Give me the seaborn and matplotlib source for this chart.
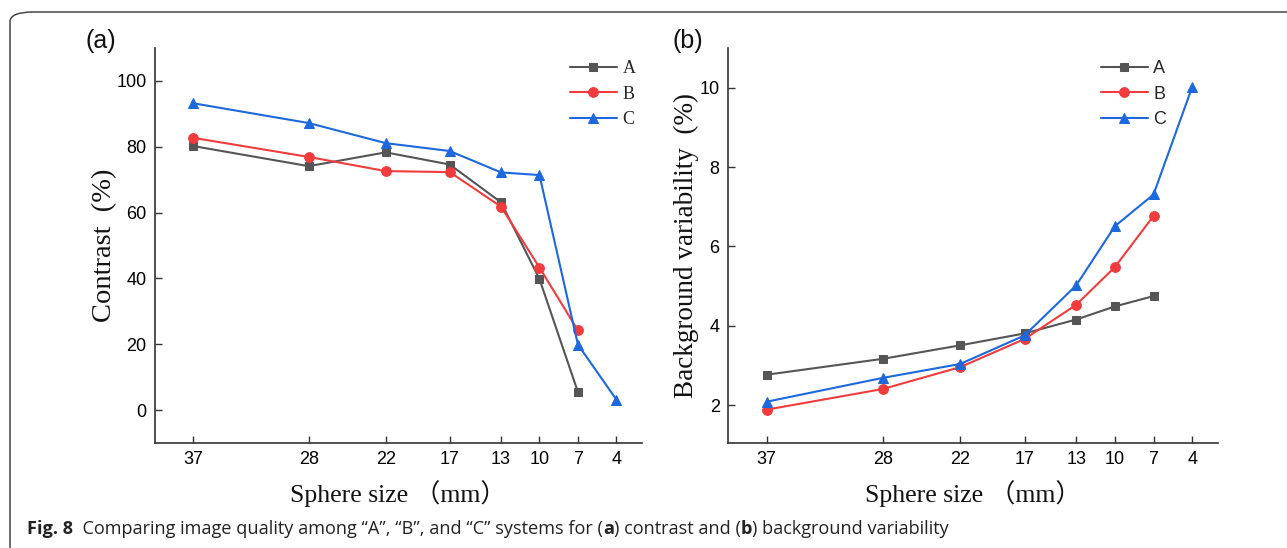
import numpy as np
import pandas as pd
import matplotlib
matplotlib.use('Agg')
import matplotlib.pyplot as plt
from matplotlib.patches import FancyBboxPatch
import seaborn as sns

sns.set_style('ticks')

# sphere sizes (mm)
sizes = [37, 28, 22, 17, 13, 10, 7]
sizes_c = [37, 28, 22, 17, 13, 10, 7, 4]

# (a) contrast (%)
contrast_a = [80.2, 74.1, 78.3, 74.6, 63.1, 39.8, 5.5]
contrast_b = [82.7, 76.9, 72.6, 72.3, 61.8, 43.3, 24.2]
contrast_c = [93.2, 87.2, 81.1, 78.7, 72.2, 71.4, 19.9, 3.2]

# (b) background variability (%)
bv_a = [2.77, 3.17, 3.51, 3.81, 4.16, 4.49, 4.75]
bv_b = [1.89, 2.41, 2.96, 3.67, 4.53, 5.48, 6.77]
bv_c = [2.09, 2.69, 3.04, 3.76, 5.02, 6.51, 7.31, 10.02]

systems = ['A', 'B', 'C']
colors = {'A': '#555555', 'B': '#f03c3c', 'C': '#1c68dc'}
markers = {'A': 's', 'B': 'o', 'C': '^'}
msizes = {'A': 6, 'B': 7, 'C': 7.5}

serif = ['Liberation Serif', 'Noto Sans CJK SC']
sans = ['Liberation Sans', 'DejaVu Sans']
plt.rcParams['font.family'] = sans

W, H = 1287, 548
fig = plt.figure(figsize=(W / 100, H / 100), dpi=100)

# rounded frame of the figure panel
fig.patches.append(FancyBboxPatch((10 / W, -40 / H), 1400 / W, (H - 12 + 40) / H,
                                  boxstyle='round,pad=0,rounding_size=0.018',
                                  transform=fig.transFigure, fill=False,
                                  edgecolor='#444444', lw=1.1))

ax1 = fig.add_axes([155 / W, (H - 443) / H, (642 - 155) / W, (443 - 48) / H])
ax2 = fig.add_axes([728 / W, (H - 443) / H, (1218 - 728) / W, (443 - 48) / H])


def draw(ax, series, ylim, yticks, ylabel, ylab_x, ylab_size, leg_font, leg_xy):
    for s in systems:
        xs, ys = series[s]
        df = pd.DataFrame({'size': xs, 'value': ys})
        sns.lineplot(data=df, x='size', y='value', ax=ax, color=colors[s], label=s,
                     marker=markers[s], markersize=msizes[s], markeredgecolor=colors[s],
                     linewidth=1.5)
    ax.set_xlim(40, 2)
    ax.set_ylim(*ylim)
    ax.set_xticks(sizes_c)
    ax.set_xticklabels([str(v) for v in sizes_c])
    ax.set_yticks(yticks)
    ax.set_yticklabels([str(v) for v in yticks])
    ax.tick_params(direction='in', length=5, width=1, color='#333333', pad=6,
                   labelsize=13, labelcolor='#000000')
    sns.despine(ax=ax)
    for sp in ['left', 'bottom']:
        ax.spines[sp].set_linewidth(1.2)
        ax.spines[sp].set_color('#333333')
    ax.set_xlabel('Sphere size （mm）', family=serif, fontsize=18.5, color='#111111')
    ax.set_ylabel(ylabel, family=serif, fontsize=ylab_size, color='#111111')
    ax.xaxis.set_label_coords(0.5, -0.094)
    ax.yaxis.set_label_coords(ylab_x, 0.5)
    ax.legend(loc='upper left', bbox_to_anchor=leg_xy, frameon=False,
              prop={'family': leg_font, 'size': 13}, handlelength=2.6,
              handletextpad=0.3, labelspacing=0.48, borderpad=0, borderaxespad=0)


draw(ax1, {'A': (sizes, contrast_a), 'B': (sizes, contrast_b), 'C': (sizes_c, contrast_c)},
     (-10, 110), [0, 20, 40, 60, 80, 100], 'Contrast  (%)', -0.078, 20.5, serif,
     ((570 - 155) / 487, (443 - 60) / 395))
draw(ax2, {'A': (sizes, bv_a), 'B': (sizes, bv_b), 'C': (sizes_c, bv_c)},
     (1.05, 11), [2, 4, 6, 8, 10], 'Background variability  (%)', -0.059, 19.5, sans,
     ((1101 - 728) / 490, (443 - 60) / 395))

fig.text(101 / W, 1 - 41 / H, '(a)', family=sans, fontsize=18, ha='center', va='center',
         color='#111111')
fig.text(688 / W, 1 - 41 / H, '(b)', family=sans, fontsize=18, ha='center', va='center',
         color='#111111')

# caption with bold pieces
cap = [('Fig. 8', 'bold'), ('  Comparing image quality among “A”, “B”, and “C” systems for (', 'normal'),
       ('a', 'bold'), (') contrast and (', 'normal'), ('b', 'bold'), (') background variability', 'normal')]
fig.canvas.draw()
rend = fig.canvas.get_renderer()
x = 27
for txt, wt in cap:
    t = fig.text(x / W, 1 - 534 / H, txt, family=['Open Sans', 'DejaVu Sans'], fontsize=13.1,
                 weight=wt, color='#222222', ha='left', va='baseline')
    x += t.get_window_extent(rend).width

fig.savefig('out.png', dpi=100)
